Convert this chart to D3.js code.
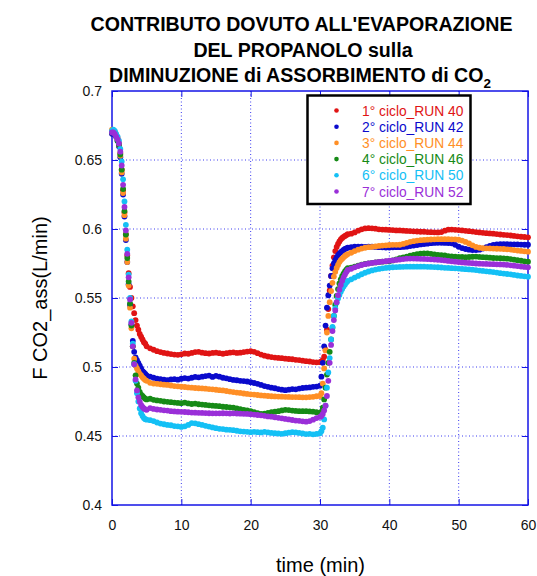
<!DOCTYPE html>
<html>
<head>
<meta charset="utf-8">
<script src="https://cdn.jsdelivr.net/npm/d3@7"></script>
<style>
  html, body { margin: 0; padding: 0; background: #fff; }
  svg { display: block; font-family: "Liberation Sans", Arial, sans-serif; }
</style>
</head>
<body>
<svg id="chart" width="537" height="576"></svg>
<script>
// Sampling times (min): 0.2 min during the transients, 0.5 min on the plateaus
const times = [
  0,0.2,0.4,0.6,0.8,1,1.2,1.4,1.6,1.8,2,2.2,2.4,2.6,2.8,3,3.2,3.4,3.6,3.8,4,4.2,4.4,4.6,4.8,5,
  5.5,6,6.5,7,7.5,8,8.5,9,9.5,10,10.5,11,11.5,12,12.5,13,13.5,14,14.5,15,15.5,16,16.5,17,17.5,
  18,18.5,19,19.5,20,20.5,21,21.5,22,22.5,23,23.5,24,24.5,25,25.5,26,26.5,27,27.5,28,28.5,29,29.5,
  30,30.2,30.4,30.6,30.8,31,31.2,31.4,31.6,31.8,32,32.2,32.4,32.6,32.8,33,33.2,33.4,33.6,33.8,34,
  34.5,35,35.5,36,36.5,37,37.5,38,38.5,39,39.5,40,40.5,41,41.5,42,42.5,43,43.5,44,44.5,45,45.5,46,
  46.5,47,47.5,48,48.5,49,49.5,50,50.5,51,51.5,52,52.5,53,53.5,54,54.5,55,55.5,56,56.5,57,57.5,58,
  58.5,59,59.5,60
];

// F CO2_ass (L/min) for each cycle
const run40 = [
  0.670,0.671,0.670,0.668,0.666,0.662,0.655,0.643,0.628,0.612,0.596,0.581,0.568,0.558,0.550,0.544,0.539,0.534,0.530,0.527,0.524,0.522,0.520,0.518,0.517,0.515,
  0.5135,0.5125,0.5115,0.5108,0.5102,0.5098,0.5094,0.5090,0.5088,0.5092,
  0.5098,0.5096,0.5102,0.5108,0.5110,0.5104,0.5100,0.5098,0.5102,0.5104,
  0.5100,0.5096,0.5100,0.5104,0.5106,0.5102,0.5104,0.5108,0.5112,0.5114,
  0.5110,0.5100,0.5090,0.5082,0.5076,0.5072,0.5068,0.5066,0.5064,0.5060,
  0.5058,0.5056,0.5052,0.5050,0.5046,0.5042,0.5040,0.5036,0.5034,
  0.5035,0.5040,0.5050,0.5075,0.5125,0.5270,0.5420,0.5555,0.5660,0.5735,0.5795,0.5840,0.5870,0.5892,0.5910,0.5925,0.5935,0.5943,0.5950,0.5956,0.5962,
  0.5966,0.5975,0.5988,0.5998,0.6004,0.6006,0.6005,0.6002,0.5998,0.5996,
  0.5995,0.5993,0.5992,0.5990,0.5990,0.5988,0.5986,0.5985,0.5983,0.5982,
  0.5980,0.5980,0.5978,0.5977,0.5976,0.5975,0.5978,0.5988,0.5995,0.5996,
  0.5994,0.5992,0.5990,0.5987,0.5984,0.5981,0.5978,0.5975,0.5972,0.5970,
  0.5968,0.5966,0.5963,0.5960,0.5958,0.5956,0.5953,0.5950,0.5947,0.5944,
  0.5942,0.5940
];
const run42 = [
  0.669,0.670,0.669,0.667,0.664,0.660,0.652,0.640,0.625,0.609,0.592,0.576,0.560,0.545,0.531,0.519,0.511,0.507,0.505,0.503,0.501,0.499,0.497,0.496,0.495,0.494,
  0.4930,0.4922,0.4915,0.4912,0.4908,0.4905,0.4910,0.4912,0.4908,0.4915,
  0.4920,0.4916,0.4922,0.4928,0.4925,0.4930,0.4934,0.4938,0.4928,0.4936,
  0.4930,0.4922,0.4918,0.4912,0.4906,0.4904,0.4900,0.4898,0.4895,0.4890,
  0.4884,0.4878,0.4870,0.4862,0.4856,0.4850,0.4846,0.4840,0.4836,0.4832,
  0.4836,0.4840,0.4838,0.4844,0.4848,0.4850,0.4852,0.4856,0.4858,
  0.4865,0.4930,0.5030,0.5150,0.5300,0.5430,0.5520,0.5590,0.5660,0.5715,0.5750,0.5775,0.5795,0.5810,0.5822,0.5832,0.5840,0.5848,0.5855,0.5860,0.5865,
  0.5868,0.5872,0.5873,0.5872,0.5871,0.5872,0.5872,0.5870,0.5868,0.5867,
  0.5866,0.5866,0.5867,0.5868,0.5868,0.5870,0.5872,0.5876,0.5880,0.5884,
  0.5888,0.5891,0.5894,0.5897,0.5899,0.5900,0.5900,0.5899,0.5898,0.5896,
  0.5885,0.5872,0.5862,0.5855,0.5850,0.5848,0.5847,0.5850,0.5858,0.5868,
  0.5878,0.5885,0.5889,0.5890,0.5890,0.5890,0.5889,0.5889,0.5888,0.5887,
  0.5886,0.5886
];
const run44 = [
  0.672,0.671,0.670,0.668,0.665,0.661,0.653,0.641,0.626,0.610,0.593,0.576,0.559,0.543,0.528,0.515,0.506,0.501,0.499,0.497,0.495,0.494,0.4925,0.4915,0.4905,0.490,
  0.4885,0.4880,0.4878,0.4875,0.4872,0.4870,0.4866,0.4862,0.4860,0.4857,
  0.4855,0.4852,0.4850,0.4848,0.4846,0.4845,0.4843,0.4840,0.4838,0.4835,
  0.4832,0.4830,0.4826,0.4822,0.4818,0.4815,0.4812,0.4808,0.4805,0.4802,
  0.4800,0.4797,0.4794,0.4792,0.4790,0.4788,0.4787,0.4786,0.4785,0.4784,
  0.4783,0.4782,0.4782,0.4781,0.4780,0.4780,0.4782,0.4784,0.4788,
  0.4790,0.4810,0.4880,0.4990,0.5120,0.5250,0.5370,0.5470,0.5550,0.5610,0.5655,0.5690,0.5718,0.5740,0.5760,0.5775,0.5785,0.5795,0.5805,0.5812,0.5818,
  0.5828,0.5840,0.5850,0.5858,0.5864,0.5868,0.5871,0.5874,0.5877,0.5880,
  0.5882,0.5884,0.5885,0.5885,0.5886,0.5892,0.5900,0.5907,0.5912,0.5916,
  0.5919,0.5921,0.5923,0.5924,0.5925,0.5926,0.5926,0.5926,0.5926,0.5925,
  0.5925,0.5922,0.5916,0.5906,0.5895,0.5882,0.5870,0.5864,0.5861,0.5860,
  0.5859,0.5858,0.5857,0.5856,0.5855,0.5853,0.5850,0.5847,0.5844,0.5841,
  0.5838,0.5836
];
const run46 = [
  0.670,0.671,0.670,0.667,0.664,0.661,0.654,0.643,0.629,0.613,0.596,0.579,0.562,0.546,0.530,0.515,0.503,0.494,0.488,0.485,0.482,0.480,0.479,0.478,0.477,0.4765,
  0.4770,0.4762,0.4758,0.4755,0.4750,0.4748,0.4745,0.4742,0.4740,0.4738,
  0.4742,0.4736,0.4732,0.4735,0.4730,0.4728,0.4725,0.4722,0.4720,0.4718,
  0.4716,0.4712,0.4710,0.4708,0.4705,0.4700,0.4695,0.4690,0.4685,0.4680,
  0.4672,0.4665,0.4660,0.4662,0.4668,0.4672,0.4676,0.4680,0.4685,0.4690,
  0.4688,0.4684,0.4682,0.4680,0.4680,0.4680,0.4678,0.4676,0.4672,
  0.4668,0.4675,0.4705,0.4765,0.4850,0.4945,0.5030,0.5110,0.5200,0.5285,0.5370,0.5450,0.5515,0.5565,0.5605,0.5635,0.5658,0.5677,0.5693,0.5706,0.5717,
  0.5720,0.5728,0.5735,0.5742,0.5747,0.5751,0.5755,0.5758,0.5761,0.5763,
  0.5765,0.5766,0.5772,0.5780,0.5788,0.5795,0.5800,0.5806,0.5812,0.5818,
  0.5822,0.5824,0.5824,0.5820,0.5816,0.5813,0.5811,0.5808,0.5804,0.5802,
  0.5800,0.5798,0.5797,0.5796,0.5797,0.5799,0.5800,0.5798,0.5796,0.5794,
  0.5792,0.5790,0.5789,0.5788,0.5787,0.5785,0.5782,0.5778,0.5774,0.5770,
  0.5766,0.5763
];
const run50 = [
  0.671,0.672,0.671,0.669,0.667,0.664,0.658,0.649,0.636,0.620,0.603,0.585,0.567,0.550,0.533,0.517,0.502,0.490,0.481,0.475,0.470,0.4665,0.4645,0.463,0.4622,0.4618,
  0.4615,0.4608,0.4598,0.4590,0.4585,0.4580,0.4578,0.4572,0.4570,0.4566,
  0.4570,0.4580,0.4594,0.4592,0.4586,0.4580,0.4574,0.4568,0.4562,0.4557,
  0.4552,0.4550,0.4546,0.4545,0.4542,0.4538,0.4534,0.4532,0.4530,0.4528,
  0.4530,0.4528,0.4526,0.4530,0.4526,0.4522,0.4520,0.4518,0.4516,0.4520,
  0.4524,0.4528,0.4526,0.4522,0.4518,0.4514,0.4516,0.4512,0.4515,
  0.4520,0.4535,0.4560,0.4620,0.4720,0.4850,0.4960,0.5065,0.5200,0.5290,0.5370,0.5425,0.5465,0.5497,0.5522,0.5545,0.5565,0.5583,0.5598,0.5612,0.5624,
  0.5635,0.5648,0.5660,0.5672,0.5683,0.5692,0.5700,0.5706,0.5711,0.5715,
  0.5718,0.5721,0.5723,0.5724,0.5725,0.5726,0.5727,0.5727,0.5727,0.5727,
  0.5727,0.5727,0.5726,0.5725,0.5724,0.5723,0.5721,0.5719,0.5718,0.5716,
  0.5715,0.5713,0.5711,0.5709,0.5707,0.5705,0.5702,0.5699,0.5696,0.5693,
  0.5691,0.5688,0.5684,0.5680,0.5677,0.5674,0.5671,0.5667,0.5663,0.5660,
  0.5657,0.5654
];
const run52 = [
  0.670,0.670,0.669,0.667,0.665,0.662,0.656,0.646,0.632,0.616,0.599,0.582,0.565,0.549,0.532,0.515,0.502,0.491,0.483,0.478,0.475,0.4725,0.471,0.470,0.4693,0.469,
  0.4702,0.4696,0.4692,0.4690,0.4686,0.4684,0.4680,0.4678,0.4676,0.4675,
  0.4674,0.4672,0.4670,0.4669,0.4668,0.4667,0.4666,0.4665,0.4664,0.4664,
  0.4664,0.4665,0.4664,0.4663,0.4664,0.4663,0.4662,0.4661,0.4660,0.4658,
  0.4655,0.4652,0.4650,0.4646,0.4642,0.4640,0.4636,0.4632,0.4628,0.4624,
  0.4620,0.4616,0.4612,0.4610,0.4606,0.4604,0.4608,0.4618,0.4630,
  0.4638,0.4645,0.4660,0.4685,0.4720,0.4790,0.4900,0.5030,0.5160,0.5260,0.5340,0.5410,0.5470,0.5520,0.5560,0.5595,0.5625,0.5650,0.5670,0.5688,0.5703,
  0.5712,0.5722,0.5731,0.5739,0.5745,0.5750,0.5754,0.5758,0.5761,0.5764,
  0.5767,0.5770,0.5773,0.5776,0.5779,0.5782,0.5785,0.5786,0.5786,0.5785,
  0.5784,0.5783,0.5782,0.5780,0.5779,0.5777,0.5775,0.5772,0.5769,0.5766,
  0.5763,0.5760,0.5758,0.5756,0.5754,0.5752,0.5750,0.5749,0.5748,0.5747,
  0.5746,0.5745,0.5744,0.5743,0.5742,0.5740,0.5737,0.5734,0.5731,0.5728,
  0.5725,0.5722
];

const seriesNames = ["1° ciclo_RUN 40", "2° ciclo_RUN 42", "3° ciclo_RUN 44",
                     "4° ciclo_RUN 46", "6° ciclo_RUN 50", "7° ciclo_RUN 52"];
const seriesValues = [run40, run42, run44, run46, run50, run52];
const seriesColors = ["#e01414", "#0a0acc", "#ff8f26", "#168a16", "#14c0f5", "#9a2fd8"];

const xTicks = [0, 10, 20, 30, 40, 50, 60];
const yTicks = [0.4, 0.45, 0.5, 0.55, 0.6, 0.65, 0.7];
const yTickLabels = ["0.4", "0.45", "0.5", "0.55", "0.6", "0.65", "0.7"];

const titleLines = ["CONTRIBUTO DOVUTO ALL'EVAPORAZIONE", "DEL PROPANOLO sulla", "DIMINUZIONE di ASSORBIMENTO di CO"];

// ---- layout ----
const svg = d3.select("#chart");
const plotL = 112, plotR = 528, plotT = 91, plotB = 505;
const axisBlue = "#1515e6";

const x = d3.scaleLinear().domain([0, 60]).range([plotL, plotR]);
const y = d3.scaleLinear().domain([0.4, 0.7]).range([plotB, plotT]);

// dotted grid
const grid = svg.append("g").attr("stroke", "#3b3bf0").attr("stroke-width", 1)
  .attr("stroke-dasharray", "1,2.5");
grid.selectAll("line.v").data(xTicks.slice(1, -1)).join("line").attr("class", "v")
  .attr("x1", d => x(d)).attr("x2", d => x(d)).attr("y1", plotT).attr("y2", plotB);
grid.selectAll("line.h").data(yTicks.slice(1, -1)).join("line").attr("class", "h")
  .attr("x1", plotL).attr("x2", plotR).attr("y1", d => y(d)).attr("y2", d => y(d));

// axes with inward ticks
const fmtY = (d) => yTickLabels[yTicks.indexOf(d)];
const gx = svg.append("g").attr("transform", `translate(0,${plotB})`)
  .call(d3.axisBottom(x).tickValues(xTicks).tickFormat(d3.format("d")).tickSize(-6).tickPadding(15));
const gy = svg.append("g").attr("transform", `translate(${plotL},0)`)
  .call(d3.axisLeft(y).tickValues(yTicks).tickFormat(fmtY).tickSize(-6).tickPadding(10));
const gt = svg.append("g").attr("transform", `translate(0,${plotT})`)
  .call(d3.axisTop(x).tickValues(xTicks).tickFormat("").tickSize(-6));
const gr = svg.append("g").attr("transform", `translate(${plotR},0)`)
  .call(d3.axisRight(y).tickValues(yTicks).tickFormat("").tickSize(-6));
[gx, gy, gt, gr].forEach(g => {
  g.select(".domain").remove();
  g.selectAll(".tick line").attr("stroke", axisBlue).attr("stroke-width", 1);
  g.selectAll(".tick text").attr("fill", "#111").style("font-size", "14px")
    .style("font-family", '"Liberation Sans", Arial, sans-serif');
});

// frame
svg.append("rect").attr("x", plotL).attr("y", plotT)
  .attr("width", plotR - plotL).attr("height", plotB - plotT)
  .attr("fill", "none").attr("stroke", axisBlue).attr("stroke-width", 1.5);

// data points
const plot = svg.append("g");
seriesValues.forEach((vals, i) => {
  plot.append("g").attr("fill", seriesColors[i])
    .selectAll("circle").data(vals).join("circle")
    .attr("cx", (d, j) => x(times[j]))
    .attr("cy", d => y(d))
    .attr("r", 2.9);
});

// legend
const lg = svg.append("g");
lg.append("rect").attr("x", 307.5).attr("y", 95.5).attr("width", 163).attr("height", 108.5)
  .attr("fill", "#fff").attr("stroke", "#000").attr("stroke-width", 2.5);
seriesNames.forEach((name, i) => {
  const cy = 110.5 + i * 16.2;
  lg.append("circle").attr("cx", 336.5).attr("cy", cy).attr("r", 2.3).attr("fill", seriesColors[i]);
  lg.append("text").attr("x", 362).attr("y", cy + 5)
    .attr("fill", seriesColors[i]).style("font-size", "13.8px")
    .text(name);
});

// title (three centred lines, subscript 2 on the last one)
const title = svg.append("g").style("font-size", "19.6px").style("font-weight", "bold").attr("fill", "#000");
title.append("text").attr("x", 301.5).attr("y", 31).attr("text-anchor", "middle").text(titleLines[0]);
title.append("text").attr("x", 303).attr("y", 56.5).attr("text-anchor", "middle").text(titleLines[1]);
const t3 = title.append("text").attr("x", 109).attr("y", 82);
t3.append("tspan").text(titleLines[2]);
t3.append("tspan").attr("dy", 5.5).style("font-size", "13.5px").text("2");

// axis titles
svg.append("text").attr("x", (plotL + plotR) / 2 + 0.5).attr("y", 572)
  .attr("text-anchor", "middle").style("font-size", "20px").text("time (min)");
svg.append("text").attr("transform", `translate(47,${(plotT + plotB) / 2}) rotate(-90)`)
  .attr("text-anchor", "middle").style("font-size", "20px").text("F CO2_ass(L/min)");
</script>
</body>
</html>
